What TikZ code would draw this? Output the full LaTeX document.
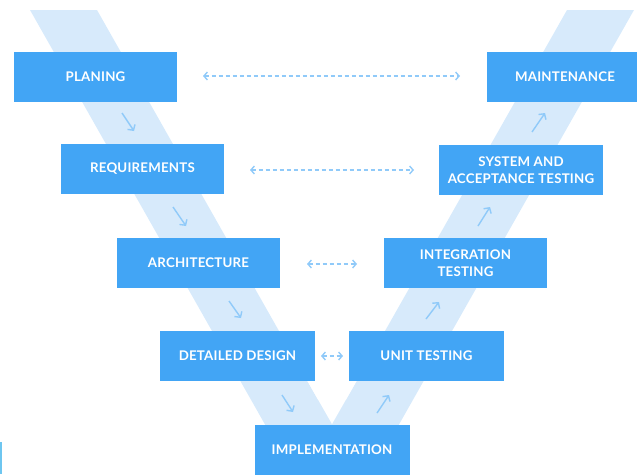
\documentclass[tikz,border=0pt]{standalone}
\usepackage{fontspec}
\setmainfont{Lato}
\usetikzlibrary{arrows.meta}
\definecolor{boxblue}{HTML}{42A5F5}
\definecolor{bandblue}{HTML}{D7EAFB}
\definecolor{arrblue}{HTML}{90CAF9}
\definecolor{edgecyan}{HTML}{6EC6F0}
\tikzset{
  stage/.style={fill=boxblue, draw=none, text=white, font=\bfseries\fontsize{13.3}{17.5}\selectfont\addfontfeature{LetterSpace=1.5}, align=center, inner sep=0pt},
  link/.style={draw=arrblue, line width=1.4pt, dash pattern=on 4pt off 3pt, {Straight Barb[length=3.5pt,width=8pt]}-{Straight Barb[length=3.5pt,width=8pt]}},
  flow/.style={draw=arrblue, line width=1.4pt, -{Straight Barb[length=4pt,width=9pt]}}
}
\begin{document}
\begin{tikzpicture}[x=1pt,y=-1pt]
\useasboundingbox (0,0) rectangle (637,474);
% V band
\fill[bandblue] (30,10) -- (97,10) -- (334,428) -- (267,428) -- cycle;
\fill[bandblue] (567,10) -- (634,10) -- (397,428) -- (330,428) -- cycle;
\fill[bandblue] (300,400) -- (364,400) -- (332,424) -- cycle;
\fill[white] (332,424) -- (300,368) -- (364,368) -- cycle;
% left edge mark
\fill[edgecyan] (0,442) rectangle (2,474);
% stages
\node[stage, minimum width=163pt, minimum height=50pt] (plan) at (95.5,77) {PLANING};
\node[stage, minimum width=163pt, minimum height=50pt] (req) at (142.5,169) {REQUIREMENTS};
\node[stage, minimum width=163pt, minimum height=50pt] (arch) at (198.5,263) {ARCHITECTURE};
\node[stage, minimum width=155pt, minimum height=50pt] (dd) at (237.5,356) {DETAILED DESIGN};
\node[stage, minimum width=155pt, minimum height=50pt] (impl) at (332,449.5) {IMPLEMENTATION};
\node[stage, minimum width=155pt, minimum height=50pt] (unit) at (426.5,356) {UNIT TESTING};
\node[stage, minimum width=163pt, minimum height=50pt] (integ) at (465.5,263) {INTEGRATION\\TESTING};
\node[stage, minimum width=164pt, minimum height=50pt] (sys) at (521,170) {SYSTEM AND\\ACCEPTANCE TESTING};
\node[stage, minimum width=150pt, minimum height=50pt, text width=150pt] (maint) at (562,77) {\hspace*{3pt}MAINTENANCE\hspace*{-3pt}};
% dashed links
\coordinate (l1a) at (203,76); \coordinate (l1b) at (460,76);
\coordinate (l2a) at (250,170); \coordinate (l2b) at (414,170);
\coordinate (l3a) at (307,264); \coordinate (l3b) at (357,264);
\coordinate (l4a) at (321,356); \coordinate (l4b) at (343,356);
\draw[link] (l1a) -- (l1b);
\draw[link] (l2a) -- (l2b);
\draw[link] (l3a) -- (l3b);
\draw[link] (l4a) -- (l4b);
% flow arrows down
\coordinate (d1a) at (122,113); \coordinate (d1b) at (134,131);
\coordinate (d2a) at (173,207); \coordinate (d2b) at (186,226);
\coordinate (d3a) at (229,301); \coordinate (d3b) at (241,318);
\coordinate (d4a) at (282,395); \coordinate (d4b) at (293,412);
\draw[flow] (d1a) -- (d1b);
\draw[flow] (d2a) -- (d2b);
\draw[flow] (d3a) -- (d3b);
\draw[flow] (d4a) -- (d4b);
% flow arrows up
\coordinate (u1a) at (377,413); \coordinate (u1b) at (389,395);
\coordinate (u2a) at (426,319); \coordinate (u2b) at (439,302);
\coordinate (u3a) at (478,226); \coordinate (u3b) at (490,207);
\coordinate (u4a) at (532,132); \coordinate (u4b) at (545,113);
\draw[flow] (u1a) -- (u1b);
\draw[flow] (u2a) -- (u2b);
\draw[flow] (u3a) -- (u3b);
\draw[flow] (u4a) -- (u4b);
\end{tikzpicture}
\end{document}
